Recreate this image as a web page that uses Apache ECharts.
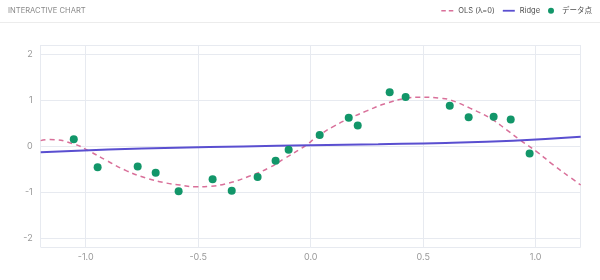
<!DOCTYPE html>
<html>
<head>
<meta charset="utf-8">
<script src="https://cdn.jsdelivr.net/npm/echarts@6/dist/echarts.min.js"></script>
<style>
html,body{margin:0;padding:0;background:#fff;}
#c{width:600px;height:280px;}
</style>
</head>
<body>
<div id="c"></div>
<script>
// Data points (x, y)
const pointX = [-1.053, -0.947, -0.769, -0.689, -0.587, -0.436, -0.351, -0.236, -0.156, -0.098, 0.04, 0.169, 0.209, 0.351, 0.422, 0.618, 0.702, 0.813, 0.889, 0.973];
const pointY = [0.15, -0.46, -0.44, -0.58, -0.98, -0.72, -0.97, -0.67, -0.32, -0.08, 0.24, 0.62, 0.45, 1.17, 1.07, 0.88, 0.63, 0.64, 0.58, -0.16];

// OLS (λ=0) fitted curve
const olsX = [-1.2, -1.159, -1.055, -0.981, -0.907, -0.818, -0.729, -0.64, -0.581, -0.514, -0.455, -0.366, -0.277, -0.188, -0.114, -0.04, 0.041, 0.1, 0.175, 0.249, 0.338, 0.427, 0.486, 0.575, 0.619, 0.708, 0.797, 0.871, 0.93, 1.004, 1.078, 1.152, 1.2];
const olsY = [0.12, 0.143, 0.05, -0.117, -0.313, -0.537, -0.696, -0.804, -0.845, -0.885, -0.875, -0.804, -0.661, -0.478, -0.261, -0.043, 0.246, 0.426, 0.609, 0.767, 0.935, 1.043, 1.065, 1.043, 1.007, 0.826, 0.609, 0.354, 0.137, -0.117, -0.407, -0.674, -0.845];

// Ridge fitted curve
const ridgeX = [-1.2, -0.9, -0.6, -0.3, 0, 0.3, 0.6, 0.9, 1.2];
const ridgeY = [-0.13, -0.075, -0.035, -0.005, 0.02, 0.042, 0.07, 0.12, 0.205];

const seriesNames = ['OLS (λ=0)', 'Ridge', 'データ点'];

const xTicksFmt = v => v.toFixed(1);
const zip = (a, b) => a.map((v, i) => [v, b[i]]);

const chart = echarts.init(document.getElementById('c'), null, {renderer: 'canvas'});
const font = 'Inter, "Noto Sans", "Noto Sans CJK JP", sans-serif';
const OLS_C = '#d9709a', RIDGE_C = '#5a4fd0', DOT_C = '#129669';
chart.setOption({
  animation: false,
  textStyle: {fontFamily: font},
  graphic: [
    {type: 'text', left: 8, top: 7, style: {text: 'INTERACTIVE CHART', fill: '#8a8a8a', font: '7.6px ' + font}},
    {type: 'rect', shape: {x: 0, y: 22, width: 600, height: 1}, style: {fill: '#ececec'}}
  ],
  legend: {
    right: 8, top: 7, padding: 0,
    itemWidth: 12, itemHeight: 7, itemGap: 8,
    textStyle: {fontSize: 7.5, color: '#4d4d4d', fontFamily: font},
    data: [
      {name: seriesNames[0], icon: 'path://M0,0M0,2.8h4.5v1.5h-4.5zM7.5,2.8h4.5v1.5h-4.5zM0,7', itemStyle: {color: OLS_C}},
      {name: seriesNames[1], icon: 'path://M0,0M0,2.6h12v1.8h-12zM0,7', itemStyle: {color: RIDGE_C}},
      {name: seriesNames[2], icon: 'path://M0,0M3,3.5m-3,0a3,3 0 1,0 6,0a3,3 0 1,0 -6,0M6,7', itemStyle: {color: DOT_C}}
    ]
  },
  grid: {left: 40.7, right: 19.3, top: 45, bottom: 32.7, containLabel: false},
  xAxis: {
    type: 'value', min: -1.2, max: 1.2,
    axisLine: {show: false}, axisTick: {show: false},
    axisLabel: {formatter: xTicksFmt, color: '#999', fontSize: 9, margin: 5, showMinLabel: false, showMaxLabel: false},
    splitLine: {show: true, lineStyle: {color: '#e7eaf0', width: 1}}
  },
  yAxis: {
    type: 'value', min: -2.2, max: 2.2,
    axisLine: {show: false}, axisTick: {show: false},
    axisLabel: {color: '#999', fontSize: 9, margin: 8, showMinLabel: false, showMaxLabel: false},
    splitLine: {show: true, lineStyle: {color: '#e7eaf0', width: 1}}
  },
  series: [
    {
      name: seriesNames[0], type: 'line', smooth: true, symbol: 'none',
      data: zip(olsX, olsY),
      lineStyle: {color: OLS_C, width: 1.5, type: [5, 4]},
      itemStyle: {color: OLS_C}, z: 2
    },
    {
      name: seriesNames[1], type: 'line', smooth: true, symbol: 'none',
      data: zip(ridgeX, ridgeY),
      lineStyle: {color: RIDGE_C, width: 2},
      itemStyle: {color: RIDGE_C}, z: 3
    },
    {
      name: seriesNames[2], type: 'scatter', symbol: 'circle', symbolSize: 8,
      data: zip(pointX, pointY),
      itemStyle: {color: DOT_C, opacity: 1}, z: 4
    }
  ]
});
</script>
</body>
</html>
